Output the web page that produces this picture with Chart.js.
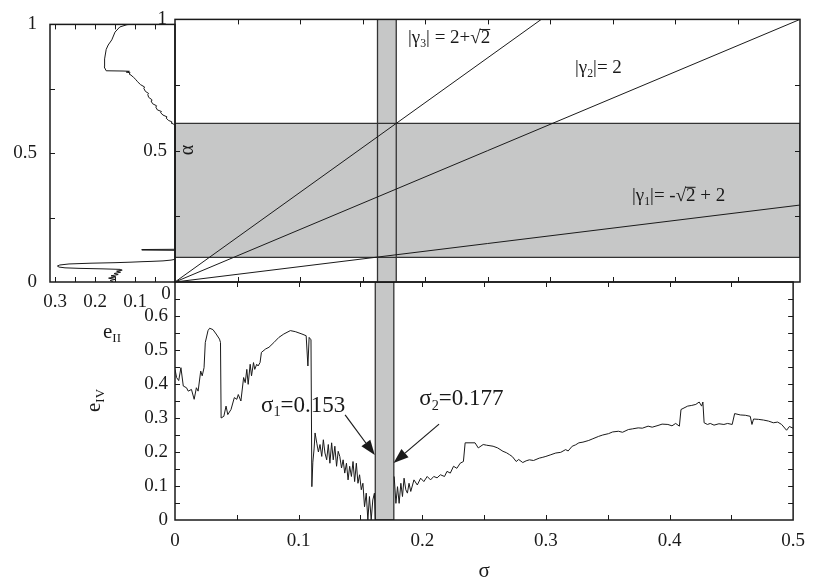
<!DOCTYPE html>
<html>
<head>
<meta charset="utf-8">
<script src="https://cdn.jsdelivr.net/npm/chart.js@4.4.1/dist/chart.umd.min.js"></script>
<style>
  html, body { margin: 0; padding: 0; background: #fff; }
  #wrap { position: relative; width: 815px; height: 581px; }
  #wrap canvas { position: absolute; left: 0; top: 0; }
</style>
</head>
<body>
<div id="wrap">
  <canvas id="cBottom" width="815" height="581"></canvas>
  <canvas id="cMain" width="815" height="581"></canvas>
  <canvas id="cLeft" width="815" height="581"></canvas>
</div>
<script>
// e_IV against sigma (null = hidden under the grey band)
const sigmaIV = [0, 0.0013, 0.003, 0.0048, 0.0067, 0.0093, 0.0107, 0.0133, 0.0155, 0.0173, 0.0187, 0.0208, 0.022, 0.0235, 0.0245, 0.0267, 0.028, 0.0307, 0.0333, 0.036, 0.0368,
  0.0373, 0.0395, 0.0413, 0.0427, 0.0453, 0.048, 0.05, 0.0512, 0.0533, 0.0555, 0.0568, 0.0581, 0.0592, 0.0608, 0.0619, 0.0635, 0.0645, 0.0661, 0.0672, 0.0688, 0.0699,
  0.0733, 0.076, 0.08, 0.084, 0.088, 0.0933, 0.0973, 0.1027, 0.1061, 0.1075, 0.1085, 0.11, 0.1107, 0.1115, 0.1125, 0.1133, 0.1147, 0.116, 0.1173, 0.1187, 0.12, 0.1213,
  0.1227, 0.124, 0.1253, 0.1267, 0.128, 0.1293, 0.1307, 0.132, 0.1333, 0.1347, 0.136, 0.1373, 0.1387, 0.14, 0.1413, 0.1427, 0.144, 0.1453, 0.1467, 0.148, 0.1493,
  0.1507, 0.152, 0.1533, 0.1547, 0.156, 0.1573, 0.1587, 0.16, 0.1613, 0.162,
  0.17,
  0.1773, 0.1787, 0.18, 0.1813, 0.1827, 0.184, 0.1853, 0.1867, 0.188, 0.1893, 0.1907, 0.1933, 0.196, 0.1987, 0.2013, 0.204, 0.2067, 0.2093, 0.212, 0.2147, 0.218,
  0.22, 0.2227, 0.2253, 0.228, 0.2307, 0.2333, 0.2347, 0.2427, 0.2453, 0.2493, 0.252, 0.2573, 0.261, 0.2653, 0.268, 0.2707, 0.273, 0.276, 0.278, 0.2813, 0.284,
  0.2867, 0.29, 0.2947, 0.297, 0.3, 0.304, 0.308, 0.312, 0.316, 0.318, 0.3213, 0.324, 0.3267, 0.33, 0.3347, 0.338, 0.3427, 0.346, 0.3507, 0.354, 0.3587, 0.362,
  0.3667, 0.37, 0.3747, 0.378, 0.3827, 0.386, 0.3907, 0.394, 0.3987, 0.402, 0.405, 0.408, 0.4093, 0.4147, 0.418, 0.4213, 0.424, 0.426, 0.427, 0.428, 0.4307,
  0.433, 0.436, 0.44, 0.444, 0.447, 0.4507, 0.4527, 0.4573, 0.4613, 0.4653, 0.4667, 0.468, 0.472, 0.476, 0.48, 0.484, 0.4875, 0.4907, 0.4947, 0.497, 0.5];
const eIV = [0.443, 0.419, 0.41, 0.448, 0.394, 0.389, 0.379, 0.384, 0.355, 0.389, 0.379, 0.438, 0.424, 0.448, 0.522, 0.557, 0.564, 0.56, 0.547, 0.532, 0.522,
  0.3, 0.305, 0.335, 0.31, 0.325, 0.36, 0.355, 0.369, 0.35, 0.419, 0.404, 0.443, 0.399, 0.458, 0.424, 0.463, 0.443, 0.458, 0.453, 0.463, 0.493,
  0.503, 0.508, 0.522, 0.537, 0.547, 0.557, 0.554, 0.547, 0.542, 0.453, 0.537, 0.53, 0.098, 0.17, 0.209, 0.256, 0.226, 0.2, 0.222, 0.187, 0.236, 0.197,
  0.177, 0.222, 0.167, 0.227, 0.177, 0.217, 0.158, 0.202, 0.187, 0.153, 0.177, 0.138, 0.167, 0.118, 0.158, 0.128, 0.172, 0.113, 0.167, 0.108, 0.133,
  0.089, 0.108, 0.039, 0.079, 0, 0.069, 0, 0.059, 0.079, 0,
  null,
  0.128, 0.049, 0.098, 0.049, 0.108, 0.069, 0.123, 0.089, 0.079, 0.108, 0.084, 0.118, 0.103, 0.123, 0.113, 0.128, 0.118, 0.128, 0.124, 0.133, 0.128,
  0.143, 0.138, 0.158, 0.152, 0.167, 0.172, 0.227, 0.227, 0.212, 0.222, 0.22, 0.217, 0.212, 0.202, 0.198, 0.192, 0.186, 0.172, 0.178, 0.169, 0.174,
  0.177, 0.175, 0.182, 0.184, 0.187, 0.192, 0.197, 0.199, 0.207, 0.203, 0.217, 0.221, 0.227, 0.229, 0.234, 0.239, 0.246, 0.25, 0.254, 0.259, 0.261, 0.258,
  0.266, 0.268, 0.271, 0.27, 0.276, 0.273, 0.278, 0.282, 0.281, 0.277, 0.284, 0.276, 0.325, 0.335, 0.337, 0.34, 0.347, 0.335, 0.347, 0.286, 0.281,
  0.284, 0.279, 0.283, 0.281, 0.284, 0.281, 0.313, 0.309, 0.308, 0.305, 0.281, 0.297, 0.296, 0.294, 0.291, 0.286, 0.288, 0.281, 0.264, 0.275, 0.27];

// e_II against alpha (left panel, e_II axis runs right to left)
const alphaII = [0, 0.006, 0.01, 0.015, 0.02, 0.024, 0.029, 0.033, 0.038, 0.042, 0.046, 0.049, 0.051, 0.053, 0.055, 0.058, 0.062, 0.066, 0.07, 0.073,
  0.075, 0.077, 0.079, 0.08, 0.082, 0.085, 0.088, 0.123, 0.124, 0.126, 0.127, 0.608, 0.613, 0.618, 0.622, 0.627, 0.636, 0.641, 0.648, 0.657, 0.662,
  0.668, 0.679, 0.684, 0.692, 0.703, 0.708, 0.717, 0.728, 0.732, 0.74, 0.752, 0.757, 0.766, 0.778, 0.786, 0.795, 0.803, 0.808, 0.812, 0.815, 0.818,
  0.819, 0.82, 0.835, 0.866, 0.903, 0.92, 0.94, 0.97, 0.99, 0.999, 1];
const eII = [0.155, 0.162, 0.15, 0.166, 0.148, 0.16, 0.142, 0.152, 0.136, 0.146, 0.132, 0.137, 0.18, 0.24, 0.275, 0.29, 0.294, 0.288, 0.265, 0.21,
  0.15, 0.11, 0.08, 0.06, 0.03, 0.01, 0, 0, 0.083, 0.083, 0, 0, 0.004, 0.01, 0.008, 0.016, 0.022, 0.02, 0.03, 0.036, 0.034,
  0.044, 0.048, 0.046, 0.056, 0.06, 0.058, 0.066, 0.068, 0.066, 0.074, 0.078, 0.076, 0.086, 0.094, 0.098, 0.104, 0.11, 0.115, 0.112, 0.122, 0.114,
  0.13, 0.172, 0.177, 0.176, 0.172, 0.167, 0.158, 0.15, 0.138, 0.12, 0.112];

// regions and |gamma| lines in the (sigma, alpha) plane
const bandSigma = [0.162, 0.177];
const rectSigma = [0, 0.5];
const rectAlpha = [0.094, 0.604];
const gammaEndSigma = [0.5, 0.5, 0.293];
const gammaEndAlpha = [0.293, 1, 1];

// inner tick positions
const sigmaTicks = [0.05, 0.1, 0.15, 0.2, 0.25, 0.3, 0.35, 0.4, 0.45];
const alphaTicks = [0.25, 0.5, 0.75];
const eIVTicks = [0.05, 0.1, 0.15, 0.2, 0.25, 0.3, 0.35, 0.4, 0.45, 0.5, 0.55, 0.6, 0.65];
const eIITicks = [0.05, 0.1, 0.15, 0.2, 0.25, 0.3];

const serif = '"Liberation Serif", "Times New Roman", "DejaVu Serif", serif';
Chart.defaults.font.family = serif;
Chart.defaults.font.size = 19;
Chart.defaults.color = '#1a1a1a';

const GREY = '#c6c7c7';
const INK = '#1a1a1a';
const fmt = v => String(Math.round(v * 100) / 100);

function box(xs, ys) {
  return [{x: xs[0], y: ys[0]}, {x: xs[1], y: ys[0]}, {x: xs[1], y: ys[1]}, {x: xs[0], y: ys[1]}, {x: xs[0], y: ys[0]}];
}

function frame(specs) {
  return {
    id: 'frame',
    afterDatasetsDraw(chart) {
      const {ctx, chartArea: a} = chart;
      const tl = 5;
      ctx.save();
      ctx.strokeStyle = INK;
      ctx.lineWidth = 1;
      ctx.beginPath();
      for (const s of specs) {
        const sc = chart.scales[s.axis];
        for (const v of s.values) {
          const p = Math.round(sc.getPixelForValue(v)) + 0.5;
          if (s.side === 'left') { ctx.moveTo(a.left, p); ctx.lineTo(a.left + tl, p); }
          if (s.side === 'right') { ctx.moveTo(a.right, p); ctx.lineTo(a.right - tl, p); }
          if (s.side === 'top') { ctx.moveTo(p, a.top); ctx.lineTo(p, a.top + tl); }
          if (s.side === 'bottom') { ctx.moveTo(p, a.bottom); ctx.lineTo(p, a.bottom - tl); }
        }
      }
      ctx.stroke();
      ctx.lineWidth = 1.5;
      ctx.strokeRect(a.left, a.top, a.width, a.height);
      ctx.restore();
    }
  };
}

// text with subscripts / overlined radicand
function rich(ctx, parts, x, y, size) {
  let cx = x;
  for (const [t, kind] of parts) {
    const s = kind === 'sub' ? size * 0.62 : size;
    ctx.font = s + 'px ' + serif;
    const w = ctx.measureText(t).width;
    ctx.fillText(t, cx, y + (kind === 'sub' ? size * 0.2 : 0));
    if (kind === 'over') ctx.fillRect(cx - 1, y - size * 0.74, w + 1, 1);
    cx += w;
  }
  return cx - x;
}

function arrow(ctx, x1, y1, x2, y2) {
  const ang = Math.atan2(y2 - y1, x2 - x1);
  const L = 15, W = 5.5;
  const bx = x2 - L * Math.cos(ang), by = y2 - L * Math.sin(ang);
  ctx.beginPath();
  ctx.moveTo(x1, y1);
  ctx.lineTo(bx, by);
  ctx.lineWidth = 1.2;
  ctx.stroke();
  ctx.beginPath();
  ctx.moveTo(x2, y2);
  ctx.lineTo(bx - W * Math.sin(ang), by + W * Math.cos(ang));
  ctx.lineTo(bx + W * Math.sin(ang), by - W * Math.cos(ang));
  ctx.closePath();
  ctx.fill();
}

const base = {
  responsive: false,
  animation: false,
  devicePixelRatio: 1,
  events: [],
  plugins: {legend: {display: false}, tooltip: {enabled: false}},
  elements: {point: {radius: 0}, line: {tension: 0}}
};
const plainAxis = {grid: {display: false, drawTicks: false}, border: {display: false}};

// ---------- bottom panel: e_IV vs sigma ----------
new Chart(document.getElementById('cBottom'), {
  type: 'scatter',
  data: {
    datasets: [
      {data: sigmaIV.map((s, i) => ({x: s, y: eIV[i]})), showLine: true, borderColor: INK, borderWidth: 1, order: 0},
      {data: box(bandSigma, [0, 0.7]), showLine: true, borderColor: '#333', borderWidth: 1.3, backgroundColor: GREY, fill: 'shape', order: 1}
    ]
  },
  options: Object.assign({}, base, {
    layout: {padding: {top: 282, right: 15, bottom: 0, left: 0}},
    scales: {
      x: Object.assign({}, plainAxis, {type: 'linear', min: 0, max: 0.5, afterFit: s => { s.height = 61; },
        ticks: {stepSize: 0.1, autoSkip: false, maxRotation: 0, padding: 10, callback: fmt}}),
      y: Object.assign({}, plainAxis, {min: 0, max: 0.7, afterFit: s => { s.width = 175; },
        ticks: {stepSize: 0.1, autoSkip: false, padding: 7, callback: v => (v > 0.65 ? '' : fmt(v))}})
    }
  }),
  plugins: [
    frame([
      {axis: 'x', side: 'bottom', values: sigmaTicks}, {axis: 'x', side: 'top', values: sigmaTicks},
      {axis: 'y', side: 'left', values: eIVTicks}, {axis: 'y', side: 'right', values: eIVTicks}
    ]),
    {
      id: 'bottomText',
      afterDraw(chart) {
        const {ctx, scales: {x, y}, chartArea: a} = chart;
        ctx.save();
        ctx.fillStyle = INK;
        ctx.strokeStyle = INK;
        ctx.textBaseline = 'alphabetic';
        ctx.textAlign = 'left';
        rich(ctx, [['σ'], ['1', 'sub'], ['=0.153']], x.getPixelForValue(0.0696), y.getPixelForValue(0.318), 23);
        rich(ctx, [['σ'], ['2', 'sub'], ['=0.177']], x.getPixelForValue(0.1976), y.getPixelForValue(0.338), 23);
        arrow(ctx, x.getPixelForValue(0.1376), y.getPixelForValue(0.309), x.getPixelForValue(0.1616), y.getPixelForValue(0.191));
        arrow(ctx, x.getPixelForValue(0.2136), y.getPixelForValue(0.282), x.getPixelForValue(0.1768), y.getPixelForValue(0.168));
        // axis titles
        ctx.font = '21px ' + serif;
        ctx.textAlign = 'center';
        ctx.fillText('σ', (a.left + a.right) / 2, 577);
        ctx.textAlign = 'left';
        rich(ctx, [['e'], ['II', 'sub']], 103, 338, 21);
        ctx.translate(100, 412);
        ctx.rotate(-Math.PI / 2);
        rich(ctx, [['e'], ['IV', 'sub']], 0, 0, 21);
        ctx.restore();
      }
    }
  ]
});

// ---------- main panel: alpha vs sigma ----------
new Chart(document.getElementById('cMain'), {
  type: 'scatter',
  data: {
    datasets: [
      ...gammaEndSigma.map((s, i) => ({data: [{x: 0, y: 0}, {x: s, y: gammaEndAlpha[i]}], showLine: true, borderColor: INK, borderWidth: 1, order: 0})),
      {data: box(bandSigma, [0, 1]), showLine: true, borderColor: '#333', borderWidth: 1.3, fill: false, order: 1},
      {data: box(rectSigma, rectAlpha), showLine: true, borderColor: '#333', borderWidth: 1.3, fill: false, order: 1},
      {data: box(bandSigma, [0, 1]), showLine: true, borderWidth: 0, backgroundColor: GREY, fill: 'shape', order: 2},
      {data: box(rectSigma, rectAlpha), showLine: true, borderWidth: 0, backgroundColor: GREY, fill: 'shape', order: 2}
    ]
  },
  options: Object.assign({}, base, {
    layout: {padding: {top: 14, right: 15, bottom: 0, left: 0}},
    scales: {
      x: Object.assign({}, plainAxis, {type: 'linear', min: 0, max: 0.5, afterFit: s => { s.height = 299; }, ticks: {display: false}}),
      y: Object.assign({}, plainAxis, {min: 0, max: 1, afterFit: s => { s.width = 175; },
        ticks: {stepSize: 0.5, autoSkip: false, padding: 8, callback: v => (v === 0 ? '' : fmt(v))}})
    }
  }),
  plugins: [
    frame([
      {axis: 'x', side: 'bottom', values: sigmaTicks}, {axis: 'x', side: 'top', values: sigmaTicks},
      {axis: 'y', side: 'left', values: alphaTicks}, {axis: 'y', side: 'right', values: alphaTicks}
    ]),
    {
      id: 'mainText',
      afterDraw(chart) {
        const {ctx, scales: {x, y}, chartArea: a} = chart;
        ctx.save();
        ctx.fillStyle = INK;
        ctx.textBaseline = 'alphabetic';
        ctx.textAlign = 'left';
        rich(ctx, [['|γ'], ['3', 'sub'], ['| = 2+√'], ['2', 'over']], x.getPixelForValue(0.1864), y.getPixelForValue(0.91), 19);
        rich(ctx, [['|γ'], ['2', 'sub'], ['|= 2']], x.getPixelForValue(0.32), y.getPixelForValue(0.795), 19);
        rich(ctx, [['|γ'], ['1', 'sub'], ['|= -√'], ['2', 'over'], [' + 2']], x.getPixelForValue(0.3656), y.getPixelForValue(0.309), 19);
        // y tick "0" sits below the corner
        ctx.font = '19px ' + serif;
        ctx.textAlign = 'center';
        ctx.textBaseline = 'middle';
        ctx.fillText('0', a.left - 9, a.bottom + 12);
        // alpha axis title, inside the frame
        ctx.translate(x.getPixelForValue(0.0104), y.getPixelForValue(0.503));
        ctx.rotate(-Math.PI / 2);
        ctx.font = '20px ' + serif;
        ctx.fillText('α', 0, 0);
        ctx.restore();
      }
    }
  ]
});

// ---------- left panel: alpha vs e_II ----------
new Chart(document.getElementById('cLeft'), {
  type: 'scatter',
  data: {
    datasets: [
      {data: alphaII.map((a, i) => ({x: eII[i], y: a})), showLine: true, borderColor: INK, borderWidth: 1}
    ]
  },
  options: Object.assign({}, base, {
    layout: {padding: {top: 14, right: 640, bottom: 0, left: 0}},
    scales: {
      x: Object.assign({}, plainAxis, {type: 'linear', reverse: true, min: 0, max: 0.3125, afterFit: s => { s.height = 299; },
        ticks: {stepSize: 0.1, includeBounds: false, autoSkip: false, maxRotation: 0, padding: 9, callback: v => (v === 0 ? '' : fmt(v))}}),
      y: Object.assign({}, plainAxis, {min: 0, max: 1, afterFit: s => { s.width = 50; },
        ticks: {stepSize: 0.5, autoSkip: false, padding: 13, callback: fmt}})
    }
  }),
  plugins: [
    frame([
      {axis: 'x', side: 'bottom', values: eIITicks}, {axis: 'x', side: 'top', values: eIITicks},
      {axis: 'y', side: 'left', values: alphaTicks}
    ])
  ]
});
</script>
</body>
</html>
